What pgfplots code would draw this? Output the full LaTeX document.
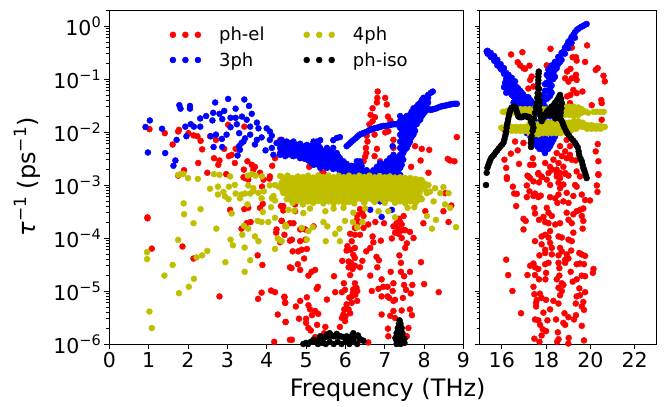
\documentclass[border=0pt]{standalone}
\usepackage{fontspec}
\setmainfont{DejaVu Sans}
\usepackage{pgfplots}
\pgfplotsset{compat=1.18}
\definecolor{oliv}{RGB}{191,191,0}
\newcommand\ep[1]{\raisebox{.4em}{\fontsize{14.5}{16}\selectfont #1}}
\newcommand\eq[1]{\raisebox{.4em}{\fontsize{17}{18}\selectfont #1}}
\newcommand\threedots[1]{\fill[#1] (0pt,0pt) circle (3pt) (12.5pt,0pt) circle (3pt) (25pt,0pt) circle (3pt);}
\begin{document}
\begin{tikzpicture}
\path[use as bounding box] (0,0) rectangle (667pt,407pt);
\begin{axis}[scale only axis, height=334pt, ymode=log, ymin=1e-6, ymax=2,
    axis line style={line width=0.9pt},
    tick style={black,line width=0.8pt},
    major tick length=5pt, minor tick length=3pt, tick align=outside,
    xtick pos=bottom, ytick pos=left,
    /pgf/number format/assume math mode=true,
    ytick={1e-6,1e-5,1e-4,1e-3,1e-2,1e-1,1},
    minor ytick={2e-6,3e-6,4e-6,5e-6,6e-6,7e-6,8e-6,9e-6,2e-5,3e-5,4e-5,5e-5,6e-5,7e-5,8e-5,9e-5,2e-4,3e-4,4e-4,5e-4,6e-4,7e-4,8e-4,9e-4,2e-3,3e-3,4e-3,5e-3,6e-3,7e-3,8e-3,9e-3,2e-2,3e-2,4e-2,5e-2,6e-2,7e-2,8e-2,9e-2,2e-1,3e-1,4e-1,5e-1,6e-1,7e-1,8e-1,9e-1,2},
    tick label style={font=\fontsize{20.5}{22}\selectfont},
  at={(109.3pt,63pt)}, anchor=south west, width=354.2pt,
  xmin=0, xmax=9, xtick={0,1,2,3,4,5,6,7,8,9},
  yticklabels={10\ep{−6},10\ep{−5},10\ep{−4},10\ep{−3},10\ep{−2},10\ep{−1},10\ep{0}},
  xlabel={Frequency (THz)},
  xlabel style={font=\fontsize{24}{26}\selectfont, at={(axis description cs:0.786,-0.138)}, anchor=center},
  ylabel={\textit{τ}\eq{−1} (ps\eq{−1})},
  ylabel style={font=\fontsize{24}{26}\selectfont, at={(axis description cs:-0.232,0.5)}, anchor=center},
  legend columns=2, transpose legend, legend cell align=left,
  legend style={draw=none, fill=none, at={(rel axis cs:0.17,0.955)}, anchor=north west, font=\fontsize{18}{20}\selectfont,
    row sep=6pt, inner sep=0pt,
    /tikz/every odd column/.style={column sep=16pt},
    /tikz/every even column/.style={column sep=37pt}},
]
% ph-el
\addplot[only marks, mark=*, mark size=3pt, color=red, legend image code/.code={\threedots{red}}] coordinates {
(1.02,1.13e-2)(1.41,9.5e-3)(1.77,1.1e-2)(1.75,1.02e-2)(1.61,5.8e-3)(2.01,9.5e-3)(2.14,8.6e-3)(2.24,8.3e-3)(2.32,6.8e-3)(2.36,4.7e-3)(2.26,2.6e-3)(1.9,1.9e-3)(1.75,1.5e-3)(2.49,1.7e-3)(2.56,8.3e-3)(2.71,7.1e-3)(2.92,4.8e-3)(3.02,1.37e-2)(3.43,1.26e-2)(3.21,4.8e-3)(2.66,3.2e-3)(2.8,2.9e-3)(2.77,2.4e-3)(3.04,3.5e-3)(3.11,3.7e-3)(3.19,2.6e-3)(3.51,2.8e-3)(3.62,2.4e-3)(3.7,2.2e-3)(3.42,1.95e-3)(3.66,1.95e-3)(4.14,2.3e-3)(2.97,1.6e-3)(3.41,1.4e-3)(3.53,1.45e-3)(3.83,1.7e-3)(4.08,1.45e-3)(4.21,3.2e-3)
(.97,2.35e-4)(.97,2.45e-4)(1.08,6.3e-5)(1.86,6.9e-5)(2.14,4.1e-5)(2.8,7.9e-6)(3.78,7.1e-6)(3.87,9.3e-6)(4.11,1.02e-5)(4.21,9.5e-6)(4.45,7.6e-6)(4.47,6e-6)(4.28,3.6e-6)(4.48,2.6e-6)(4.19,1.1e-6)(4.59,1.2e-6)(3.77,4.7e-5)(3.89,3.1e-5)(4.59,2.8e-5)(3.07,3.4e-4)(3.43,3.5e-4)(3.53,3.7e-4)(3.83,3.7e-4)(3.9,4.4e-4)(3.59,2e-4)(3.49,1.9e-4)(3.36,1.5e-4)(4.38,2.1e-4)(4.25,1.45e-4)(4.24,1.26e-4)(4.45,1.15e-4)(4.36,4e-4)(4.42,3.3e-4)(4.59,8.9e-5)(4.34,8.3e-5)(4.59,1.9e-4)(3.92,1.26e-3)(3.88,9.3e-4)(3.45,1.35e-3)(3.53,1.26e-3)(4.07,1.32e-3)
(7.98,1.9e-4)(8.62,2e-4)(8.49,3.2e-4)(8.03,3.2e-4)(8.69,4.1e-4)(8.54,7e-4)(7.92,3.5e-5)(8,1.35e-5)(8.37,9.5e-6)(7.7,1.3e-5)(7.64,2.3e-5)(7.41,2.3e-5)(7.49,1.9e-5)(7.49,1.3e-5)(7.54,1.05e-5)(7.66,9e-6)(7.46,7.4e-6)(7.22,6.5e-6)(7.26,6.8e-6)(7.43,4.3e-6)(7.64,4.5e-6)(7.69,3.5e-6)(7.22,4.2e-6)(7.14,3.4e-6)(6.92,3.6e-6)(7.26,3.1e-6)(7.08,1.95e-6)(7.09,1.4e-6)(7.6,2e-6)(7.56,1.4e-6)(7.37,4.7e-5)(7.41,3.4e-5)(7.52,6.5e-5)(7.56,7.9e-5)(7.73,1e-4)(7.43,1e-4)(7.18,9.8e-5)(7.26,1.26e-4)(7.52,1.4e-4)(7.64,1.3e-4)(7.22,1.66e-4)(7.43,1.8e-4)(7.39,2e-4)(7.48,2.6e-4)(6.98,1.9e-4)(6.76,2e-4)(6.9,8.9e-5)(6.69,1.07e-4)(6.71,8.3e-5)(6.63,6.5e-5)(6.53,5.6e-5)(6.03,5.8e-5)(6.13,6e-5)(6.24,6.5e-5)(6.16,8.7e-5)(6.24,1.15e-4)(6.37,1.15e-4)(6.58,1.8e-4)(6.46,1.55e-4)(6.37,3.5e-4)(6.46,2.6e-4)(6.29,2.2e-4)(6.24,1.55e-4)
(5.92,3.7e-5)(6.24,4.2e-5)(6.43,3.7e-5)(6.14,3.4e-5)(6.24,3e-5)(6.08,2.8e-5)(6.37,2.8e-5)(6.12,2e-5)(6.63,1.95e-5)(6.81,2.8e-5)(6.79,4.4e-5)(6.85,3.8e-5)(7.15,2.3e-5)(5.71,1.9e-5)(5.23,2.5e-5)(5.14,2.3e-5)(5.06,1.95e-5)(5.3,1.2e-5)(5.27,1.1e-5)(4.63,2.7e-5)(4.85,2.5e-5)(4.79,3.2e-5)(4.95,4.1e-5)(4.66,5.6e-5)(4.8,5.6e-5)(5.02,6.2e-5)(4.89,6e-5)(4.64,9.3e-5)(4.85,8.7e-5)(4.98,9.3e-5)(4.68,1.9e-4)(4.38,2.1e-4)(4.42,4e-4)(4.72,4.3e-4)(4.72,3.2e-4)(4.85,1.45e-4)(5.19,1.66e-4)(4.98,1.45e-4)
(5.96,1.4e-5)(6.24,1.4e-5)(6.28,1.15e-5)(6.2,1.07e-5)(5.99,1.05e-5)(5.91,9.5e-6)(5.74,9.5e-6)(6.19,9.3e-6)(6.16,7.9e-6)(6.67,1e-5)(6.84,1.1e-5)(6.92,1.66e-5)(7.07,1.2e-5)(6.96,1.2e-5)(6.92,7.9e-6)(7.07,7.9e-6)(7.11,7.4e-6)(5.53,6.9e-6)(5.02,7.6e-6)(4.85,6.5e-6)(4.74,5.1e-6)(4.45,7.8e-6)(4.47,6e-6)(5.06,5.4e-6)(5.1,4.5e-6)(5.23,4.2e-6)(5.31,3.7e-6)(4.82,3e-6)(5,3e-6)(5,2.5e-6)(4.48,2.6e-6)(5.06,2e-6)(5.12,1.8e-6)(4.64,1.2e-6)(5.23,1.35e-6)(5.49,2.1e-6)(5.46,1.6e-6)(5.86,2.1e-6)(5.99,2.7e-6)(5.95,3.6e-6)(6.03,5.6e-6)(6.16,6e-6)(6.3,6.5e-6)(6.08,4.5e-6)(5.91,3.1e-6)(6.58,1.07e-6)
(6.82,5.8e-2)(6.81,4.4e-2)(6.8,3.6e-2)(7.01,4.4e-2)(7.05,3.3e-2)(6.69,2.8e-2)(6.64,2.1e-2)(6.75,1.9e-2)(6.69,1.6e-2)(6.61,1.4e-2)(7.08,1.95e-2)(7.14,1.65e-2)(6.74,8.9e-3)(6.54,8.5e-3)(6.56,6.6e-3)(6.52,5e-3)(6.53,4e-3)(6.5,3.4e-3)(6.46,2.8e-3)(6.8,4.8e-3)(6.74,3.5e-3)(6.88,2.8e-3)(7.01,9.8e-3)(7.09,1.03e-2)(7.22,7.1e-3)(7.22,5e-3)(7.22,3.5e-3)(7.77,5.4e-3)(7.94,4.8e-3)(8.13,4.6e-3)(7.91,2.9e-3)(7.67,2.2e-3)(8.83,8e-3)(8.6,3.1e-3)(8.66,2.9e-3)(8.77,2.8e-3)(8.11,1.7e-3)(5.44,1.7e-3)(5.4,1.65e-3)(5.08,2.2e-3)(4.34,7.1e-3)
(6.3,1.6e-4)(6.33,2e-4)(6.3,2.7e-4)(6.42,3e-4)(7.36,2.3e-4)(7.33,1.5e-4)(7.3,1.9e-4)(7.45,1.4e-4)(7.35,1.2e-4)(6.12,1.2e-4)(6.05,7e-5)(6.2,4.8e-5)(6.08,3.6e-5)(6.18,2.6e-5)(6.3,1e-5)(6.25,8.5e-6)(6.1,7.5e-6)(6,3.3e-6)(5.97,4.5e-6)(6.12,3.8e-6)(5.15,3.5e-6)(5.28,2.3e-6)(7.2,1e-5)(7.22,1.4e-5)
};
\addlegendentry{ph-el}
% 3ph
\addplot[only marks, mark=*, mark size=3pt, color=blue, legend image code/.code={\threedots{blue}}] coordinates {
(.92,1.24e-2)(1.03,1.65e-2)(.98,4.1e-3)(1.34,1.15e-2)(1.42,4e-3)(1.78,3.2e-2)(1.81,2.75e-2)(2.05,3.1e-2)(2.05,2.75e-2)(2.31,1.8e-2)(2.46,2e-2)(2.69,3.6e-2)(3.02,4.2e-2)(3.43,4.1e-2)(3.55,3.1e-2)(3.21,2.75e-2)(2.64,2.3e-2)(2.8,2.2e-2)(2.92,2.5e-2)(3.62,2.2e-2)(2.62,1.65e-2)(2.87,1.75e-2)(3.08,1.85e-2)(3.21,1.85e-2)(3.37,1.95e-2)(3.49,1.7e-2)(3.75,1.5e-2)(1.93,1.26e-2)(2.07,1.4e-2)(2.15,1.26e-2)(2.31,1.26e-2)(3.08,1.23e-2)(3.24,1.4e-2)(3.58,1.26e-2)(3.79,1.17e-2)(1.71,7.1e-3)(1.96,8.3e-3)(2.71,8.9e-3)(2.58,8.3e-3)(2.98,8.9e-3)(2.86,7.4e-3)(3.3,9.5e-3)(3.58,8.9e-3)(3.45,7.6e-3)(3.41,6.6e-3)(3.75,7.1e-3)(3.7,5.8e-3)(3.87,7.9e-3)(4,1.17e-2)(4.08,1.02e-2)(4.13,8.5e-3)(1.68,2.9e-3)(1.63,2.3e-3)(2.65,5.2e-3)(2.87,5.2e-3)(3.3,5.4e-3)(3.36,6.2e-3)(3.32,4.6e-3)(3.26,3.6e-3)(3.97,4.5e-3)(4.08,7.1e-3)(4.13,5e-3)(4.25,6.2e-3)(4.38,7.1e-3)(4.17,3.7e-3)(4.34,4e-3)(4.51,5.8e-3)(4.47,4.3e-3)(4.59,5e-3)
(4.34,3.7e-3)(4.34,5e-3)(4.34,6.6e-3)(4.43,4.3e-3)(4.43,5.7e-3)(4.51,3.7e-3)(4.51,5e-3)(4.51,6.6e-3)(4.6,4e-3)(4.6,5.7e-3)(4.68,3.5e-3)(4.68,5e-3)(4.68,6.6e-3)(4.77,4.3e-3)(4.77,5.7e-3)(4.85,3.2e-3)(4.85,4.3e-3)(4.85,6e-3)(4.93,3.7e-3)(4.93,5e-3)(5.02,3.2e-3)(5.02,4.3e-3)(5.02,5.7e-3)(5.1,2.8e-3)(5.1,3.7e-3)(5.1,5e-3)(5.19,2.4e-3)(5.19,3.2e-3)(5.19,4.3e-3)(5.19,5.7e-3)(5.19,6.6e-3)(5.27,2.8e-3)(5.27,3.7e-3)(5.27,5e-3)(5.27,6.6e-3)(5.36,2.1e-3)(5.36,2.8e-3)(5.36,3.7e-3)(5.36,5e-3)(5.36,7e-3)(5.45,2.4e-3)(5.45,3.2e-3)(5.45,4.3e-3)(5.53,2.1e-3)(5.53,2.8e-3)(5.53,3.7e-3)(5.53,5e-3)(5.61,2.4e-3)(5.61,3.2e-3)(5.61,4.3e-3)(5.69,2e-3)(5.69,2.8e-3)(5.69,3.7e-3)(5.69,5e-3)(5.69,7e-3)(5.78,2.2e-3)(5.78,3e-3)(5.78,4e-3)(5.78,7.7e-3)(5.86,1.8e-3)(5.86,2.4e-3)(5.86,3.2e-3)(5.86,8e-3)(5.95,1.7e-3)(5.95,2.2e-3)(5.95,2.8e-3)(6.03,1.6e-3)(6.03,2e-3)(6.03,2.5e-3)(6.03,5.4e-3)(6.12,1.6e-3)(6.12,2e-3)(6.12,6.2e-3)(6.2,1.6e-3)(6.2,2.1e-3)(6.2,7e-3)(6.29,1.55e-3)(6.29,1.9e-3)(6.29,2.8e-3)(6.29,8e-3)(6.37,1.55e-3)(6.37,2e-3)(6.37,2.8e-3)(6.37,9e-3)(6.45,1.55e-3)(6.45,1.9e-3)(6.45,9.5e-3)(6.54,1.55e-3)(6.54,1.9e-3)(6.54,1e-2)(6.62,1.55e-3)(6.62,1.1e-2)(6.71,1.5e-3)(6.71,1.9e-3)(6.71,1.15e-2)(6.8,1.55e-3)(6.8,2.2e-3)(6.8,1.2e-2)(6.88,1.55e-3)(6.88,2.1e-3)(6.88,2.6e-3)(6.88,1.25e-2)(6.97,1.6e-3)(6.97,2.3e-3)(6.97,1.3e-2)(7.05,1.6e-3)(7.05,2.1e-3)(7.05,2.8e-3)(7.05,1.3e-2)(7.13,1.6e-3)(7.13,2.4e-3)(7.13,3.2e-3)(7.13,1.35e-2)(7.22,1.6e-3)(7.22,2.1e-3)(7.22,2.8e-3)(7.22,3.7e-3)(7.2,5.4e-3)(7.22,1.4e-2)(7.3,1.6e-3)(7.3,2.4e-3)(7.3,3.2e-3)(7.3,1.4e-2)
(7.39,1.55e-3)(7.39,2.1e-3)(7.39,2.8e-3)(7.39,3.7e-3)(7.39,5e-3)(7.39,6.6e-3)(7.39,8.9e-3)(7.39,1.2e-2)(7.39,1.6e-2)(7.39,2e-2)(7.47,3e-3)(7.47,4e-3)(7.47,5.3e-3)(7.47,7e-3)(7.47,9.5e-3)(7.47,1.25e-2)(7.47,1.6e-2)(7.56,5e-3)(7.56,6.6e-3)(7.56,8.9e-3)(7.56,1.2e-2)(7.56,1.6e-2)(7.56,2e-2)(7.64,6.6e-3)(7.64,8.9e-3)(7.64,1.2e-2)(7.64,1.6e-2)(7.64,2.1e-2)(7.73,9e-3)(7.73,1.2e-2)(7.73,1.6e-2)(7.73,2.1e-2)(7.73,2.8e-2)(7.81,1.4e-2)(7.81,1.8e-2)(7.81,2.4e-2)(7.81,3e-2)(7.9,1.7e-2)(7.9,2.1e-2)(7.9,2.8e-2)(7.9,3.5e-2)(7.98,2.2e-2)(7.98,2.8e-2)(7.98,3.6e-2)(7.98,4.4e-2)(8.05,2.6e-2)(8.05,3.4e-2)(8.05,4.5e-2)(8.1,5e-2)(8.17,5.5e-2)(8.22,5.8e-2)(8.15,2.6e-2)(8.24,2.7e-2)(8.32,2.8e-2)(8.41,3e-2)(8.49,3.1e-2)(8.58,3.2e-2)(8.66,3.3e-2)(8.75,3.4e-2)(8.83,3.4e-2)
(6.63,3.4e-4)(6.92,2.5e-4)(6.88,4.9e-4)(7.18,3.4e-4)
(4.39,3.9e-3)(4.39,4.6e-3)(4.39,6e-3)(4.47,4.6e-3)(4.47,5.5e-3)(4.47,3.5e-3)(4.56,4.3e-3)(4.56,5.3e-3)(4.56,6.2e-3)(4.64,3.6e-3)(4.64,4.6e-3)(4.64,6.2e-3)(4.72,4e-3)(4.72,5.6e-3)(4.81,3.5e-3)(4.81,4.6e-3)(4.81,5.2e-3)(4.89,3.3e-3)(4.89,4.2e-3)(4.89,5.3e-3)(4.97,3.1e-3)(4.97,4e-3)(4.97,5.4e-3)(5.06,2.9e-3)(5.06,3.7e-3)(5.06,4.8e-3)(5.14,2.6e-3)(5.14,3.3e-3)(5.14,4.4e-3)(5.14,5.6e-3)(5.23,2.5e-3)(5.23,3.4e-3)(5.23,4.6e-3)(5.31,2.4e-3)(5.31,3.2e-3)(5.31,4.3e-3)(5.31,5.7e-3)(5.4,2.5e-3)(5.4,3.3e-3)(5.4,4.4e-3)(5.49,2.2e-3)(5.49,3e-3)(5.49,3.9e-3)(5.57,2.3e-3)(5.57,3.1e-3)(5.57,4.1e-3)(5.65,2.2e-3)(5.65,3e-3)(5.65,4e-3)(5.73,2.4e-3)(5.73,3.3e-3)(5.82,2e-3)(5.82,2.7e-3)(5.82,3.5e-3)(5.9,2e-3)(5.9,2.7e-3)(5.99,1.9e-3)(5.99,2.5e-3)
(6.07,1.75e-3)(6.07,2.25e-3)(6.16,1.75e-3)(6.16,2.3e-3)(6.25,1.7e-3)(6.25,2.3e-3)(6.33,1.7e-3)(6.33,2.4e-3)(6.41,1.7e-3)(6.41,2.3e-3)(6.5,1.7e-3)(6.58,1.7e-3)(6.66,1.7e-3)(6.75,1.7e-3)(6.84,1.8e-3)(6.92,1.8e-3)(6.92,2.35e-3)(7.01,1.8e-3)(7.01,2.5e-3)(7.09,1.85e-3)(7.09,2.7e-3)(7.17,1.85e-3)(7.17,2.6e-3)(7.26,1.85e-3)(7.26,2.7e-3)(7.34,1.85e-3)(7.34,2.5e-3)(7.34,3.3e-3)
(6.08,5.8e-3)(6.16,6.6e-3)(6.25,7.5e-3)(6.33,8.5e-3)(6.41,9.2e-3)(6.5,9.8e-3)(6.58,1.05e-2)(6.66,1.12e-2)(6.75,1.18e-2)(6.84,1.22e-2)(6.92,1.28e-2)(7.01,1.3e-2)(7.09,1.33e-2)(7.17,1.38e-2)(7.26,1.4e-2)(7.34,1.45e-2)
(8.2,2.65e-2)(8.28,2.75e-2)(8.36,2.9e-2)(8.45,3.05e-2)(8.54,3.15e-2)(8.62,3.25e-2)(8.7,3.35e-2)(8.79,3.4e-2)
(7.43,2.4e-3)(7.43,3.4e-3)(7.43,4.6e-3)(7.43,6.1e-3)(7.43,8e-3)(7.43,1.1e-2)(7.43,1.4e-2)(7.43,1.85e-2)(7.51,4.6e-3)(7.51,6.1e-3)(7.51,8e-3)(7.51,1.05e-2)(7.51,1.4e-2)(7.51,1.85e-2)(7.6,5.8e-3)(7.6,7.8e-3)(7.6,1.05e-2)(7.6,1.4e-2)(7.6,1.85e-2)(7.68,8e-3)(7.68,1.05e-2)(7.68,1.4e-2)(7.68,1.85e-2)(7.68,2.4e-2)(7.77,1.05e-2)(7.77,1.4e-2)(7.77,1.9e-2)(7.77,2.5e-2)(7.85,1.6e-2)(7.85,2.1e-2)(7.85,2.7e-2)(7.85,3.3e-2)(7.94,2e-2)(7.94,2.5e-2)(7.94,3.2e-2)(7.94,4e-2)(8.02,2.4e-2)(8.02,3.1e-2)(8.02,4e-2)(8.1,2.8e-2)(8.1,3.6e-2)(8.1,4.4e-2)
};
\addlegendentry{3ph}
% 4ph
\addplot[only marks, mark=*, mark size=3pt, color=oliv, legend image code/.code={\threedots{oliv}}] coordinates {
(.96,5.4e-5)(.96,4e-5)(1.08,2e-6)(1.02,4.1e-6)(1.4,1.95e-5)(1.61,3.1e-5)(1.75,9.2e-5)(1.77,9.1e-6)(2.02,1.2e-5)(2.15,1.7e-5)(2.22,4.3e-5)(2.36,4.7e-5)(2.49,5.7e-5)(2.14,1.9e-4)(1.9,2.8e-4)(1.89,4.5e-4)(2.32,3.5e-4)(2.72,1.5e-4)(2.95,3.5e-5)(3.08,9.3e-5)(3.14,7.3e-5)(3.44,6.6e-5)(3.44,2.3e-5)(3.58,3.8e-5)(3.38,1.15e-4)(3.42,1.7e-4)(3.53,1.5e-4)(3.7,1.07e-4)(3.79,8.7e-5)(3.11,2.9e-4)(3.51,4.3e-4)(3.9,3.1e-4)(3.77,2.1e-4)(3.87,2e-4)(4.04,2e-4)(4.21,2.4e-4)(4.11,3.8e-4)(4.21,6.2e-5)(4.28,9.8e-5)(4.34,8.9e-5)(4.48,1.75e-4)(4.5,1.65e-4)
(1.75,1.55e-3)(1.81,1.6e-3)(1.88,1.62e-3)(2,1.35e-3)(2.25,1.3e-3)(2.56,8.5e-4)(2.66,1.6e-3)(2.8,1.55e-3)(3.07,1.45e-3)(2.76,9.3e-4)(3.04,9.3e-4)(3.19,1e-3)(2.76,6.6e-4)(2.9,7.4e-4)(2.94,6.1e-4)(3.03,5.4e-4)(3.21,6.9e-4)(3.32,5.6e-4)(3.36,6.6e-4)(3.45,6.9e-4)(3.58,6.9e-4)(3.52,1.5e-3)(3.62,1.6e-3)(3.72,1.5e-3)(3.53,9.8e-4)(3.66,8.7e-4)(3.66,7.6e-4)(3.79,7.1e-4)(3.87,5.6e-4)(3.93,7.6e-4)(3.88,1.45e-3)(4.08,9.8e-4)(4.21,1e-3)(4.3,9.3e-4)(4.38,1.1e-3)(4.34,1.48e-3)(4.17,6.2e-4)(4.21,5.1e-4)(4.13,5.6e-4)(4.42,7.1e-4)(4.51,5.4e-4)(4.59,1.26e-3)(4.59,6.3e-4)
(4.4,1.4e-3)(4.4,1.05e-3)(4.4,8e-4)(4.53,1.5e-3)(4.53,1.15e-3)(4.53,8.6e-4)(4.53,6.5e-4)(4.66,1.35e-3)(4.66,1e-3)(4.66,7.8e-4)(4.66,6e-4)(4.66,4.6e-4)(4.79,1.45e-3)(4.79,1.1e-3)(4.79,8.4e-4)(4.79,6.3e-4)(4.79,5e-4)(4.92,1.4e-3)(4.92,1.02e-3)(4.92,7.9e-4)(4.92,6e-4)(4.92,4.3e-4)(5.05,1.5e-3)(5.05,1.12e-3)(5.05,8.4e-4)(5.05,6.5e-4)(5.05,4.9e-4)(5.18,1.38e-3)(5.18,1.05e-3)(5.18,8e-4)(5.18,6e-4)(5.18,4.6e-4)(5.31,1.52e-3)(5.31,1.15e-3)(5.31,8.6e-4)(5.31,6.4e-4)(5.31,5e-4)(5.44,1.42e-3)(5.44,1.05e-3)(5.44,7.9e-4)(5.44,6.1e-4)(5.44,4.5e-4)(5.57,1.5e-3)(5.57,1.1e-3)(5.57,8.3e-4)(5.57,6.4e-4)(5.57,4.9e-4)(5.7,1.4e-3)(5.7,1.02e-3)(5.7,7.9e-4)(5.7,6e-4)(5.7,4.5e-4)(5.83,1.5e-3)(5.83,1.12e-3)(5.83,8.4e-4)(5.83,6.5e-4)(5.83,4.9e-4)(5.96,1.4e-3)(5.96,1.05e-3)(5.96,8e-4)(5.96,6e-4)(5.96,4.5e-4)(6.09,1.5e-3)(6.09,1.12e-3)(6.09,8.6e-4)(6.09,6.4e-4)(6.09,4.8e-4)(6.22,1.4e-3)(6.22,1.05e-3)(6.22,7.9e-4)(6.22,6e-4)(6.22,4.5e-4)(6.35,1.5e-3)(6.35,1.15e-3)(6.35,8.4e-4)(6.35,6.5e-4)(6.48,1.42e-3)(6.48,1.05e-3)(6.48,8e-4)(6.48,6e-4)(6.48,4.6e-4)(6.61,1.5e-3)(6.61,1.12e-3)(6.61,8.6e-4)(6.61,6.4e-4)(6.74,1.4e-3)(6.74,1.02e-3)(6.74,7.9e-4)(6.74,6e-4)(6.74,4.8e-4)(6.87,1.48e-3)(6.87,1.12e-3)(6.87,8.4e-4)(6.87,6.5e-4)(7,1.4e-3)(7,1.05e-3)(7,8e-4)(7,6e-4)(7,4.6e-4)(7.13,1.45e-3)(7.13,1.12e-3)(7.13,8.6e-4)(7.13,6.4e-4)(7.26,1.38e-3)(7.26,1.02e-3)(7.26,7.9e-4)(7.26,6e-4)(7.26,4.6e-4)(7.39,1.4e-3)(7.39,1.1e-3)(7.39,8.4e-4)(7.39,6.5e-4)(7.39,4.9e-4)(7.52,1.35e-3)(7.52,1.02e-3)(7.52,8e-4)(7.52,6e-4)(7.52,4.5e-4)(7.65,1.35e-3)(7.65,1.05e-3)(7.65,8.4e-4)(7.65,6.4e-4)(7.65,4.9e-4)(7.78,1.3e-3)(7.78,1e-3)(7.78,7.9e-4)(7.78,6e-4)(7.78,4.6e-4)(7.9,1.25e-3)(7.9,9.5e-4)(7.9,7.5e-4)(7.9,5.8e-4)
(7.94,1.23e-3)(8.11,1e-3)(8.28,8.7e-4)(8.49,9.1e-4)(8.62,7e-4)(8.41,7e-4)(8.24,4.9e-4)(8.53,4.3e-4)(8.66,3.7e-4)(8.07,2.6e-4)(8.3,2.2e-4)(8.2,1.5e-4)(8.81,1.6e-4)(7.94,5.4e-4)(8.07,7e-4)(8.02,8.5e-4)(8.15,7.5e-4)(8.02,1.05e-3)
(4.47,1.66e-4)(4.38,8.7e-5)(4.55,3.4e-4)(4.89,1.55e-4)(5.06,1.35e-4)(5.17,1.6e-4)(5.02,9.3e-5)(4.93,2.95e-4)(5.44,2e-4)(5.54,1.66e-4)(5.85,1.5e-4)(5.99,2.1e-4)(5.74,1.2e-4)(5.5,8.7e-5)(5.86,8.7e-5)(6.19,2e-4)(6.3,1.6e-4)(6.43,2e-4)(7.26,2.45e-4)(6.2,3e-4)(5.49,3.2e-4)(5.95,3.7e-4)(6.84,3.2e-4)(7.09,3.2e-4)(7.58,3.7e-4)(7.75,3.8e-4)(4.7,3.3e-4)(5.1,3.6e-4)(5.7,3.6e-4)(6.5,3.6e-4)
(4.47,1.25e-3)(4.47,9.6e-4)(4.47,7.2e-4)(4.6,1.2e-3)(4.6,9.2e-4)(4.6,7e-4)(4.6,5.3e-4)(4.73,1.25e-3)(4.73,9.5e-4)(4.73,7.2e-4)(4.73,5.5e-4)(4.86,1.2e-3)(4.86,9e-4)(4.86,7e-4)(4.86,5.3e-4)(4.99,1.25e-3)(4.99,9.5e-4)(4.99,7.2e-4)(4.99,5.5e-4)(5.12,1.25e-3)(5.12,9.2e-4)(5.12,7e-4)(5.12,5.3e-4)(5.25,1.28e-3)(5.25,9.5e-4)(5.25,7.2e-4)(5.25,5.5e-4)(5.38,1.25e-3)(5.38,9.2e-4)(5.38,7e-4)(5.38,5.3e-4)(5.51,1.25e-3)(5.51,9.5e-4)(5.51,7.2e-4)(5.51,5.5e-4)(5.64,1.25e-3)(5.64,9.2e-4)(5.64,7e-4)(5.64,5.3e-4)(5.77,1.25e-3)(5.77,9.5e-4)(5.77,7.2e-4)(5.77,5.5e-4)(5.9,1.25e-3)(5.9,9.2e-4)(5.9,7e-4)(5.9,5.3e-4)(6.03,1.25e-3)(6.03,9.5e-4)(6.03,7.2e-4)(6.03,5.5e-4)(6.16,1.25e-3)(6.16,9.2e-4)(6.16,7e-4)(6.16,5.3e-4)(6.29,1.25e-3)(6.29,9.5e-4)(6.29,7.2e-4)(6.29,5.5e-4)(6.42,1.25e-3)(6.42,9.2e-4)(6.42,7e-4)(6.42,5.3e-4)(6.55,1.25e-3)(6.55,9.5e-4)(6.55,7.2e-4)(6.55,5.5e-4)(6.68,1.25e-3)(6.68,9.2e-4)(6.68,7e-4)(6.68,5.3e-4)(6.81,1.25e-3)(6.81,9.5e-4)(6.81,7.2e-4)(6.81,5.5e-4)(6.94,1.25e-3)(6.94,9.2e-4)(6.94,7e-4)(6.94,5.3e-4)(7.07,1.25e-3)(7.07,9.5e-4)(7.07,7.2e-4)(7.07,5.5e-4)(7.2,1.25e-3)(7.2,9.2e-4)(7.2,7e-4)(7.2,5.3e-4)(7.33,1.22e-3)(7.33,9.5e-4)(7.33,7.2e-4)(7.33,5.5e-4)(7.46,1.2e-3)(7.46,9.2e-4)(7.46,7e-4)(7.46,5.3e-4)(7.59,1.2e-3)(7.59,9.5e-4)(7.59,7.2e-4)(7.59,5.5e-4)(7.72,1.15e-3)(7.72,9.2e-4)(7.72,7e-4)(7.72,5.3e-4)(7.85,1.1e-3)(7.85,8.8e-4)(7.85,6.8e-4)(7.85,5.2e-4)
};
\addlegendentry{4ph}
% ph-iso
\addplot[only marks, mark=*, mark size=3pt, color=black, legend image code/.code={\threedots{black}}] coordinates {
(4.93,1e-6)(5.05,1e-6)(5.19,1.2e-6)(5.28,1.1e-6)(5.36,1.4e-6)(5.45,1.3e-6)(5.53,1.5e-6)(5.6,1.6e-6)(5.7,1.4e-6)(5.78,1.55e-6)(5.88,1.4e-6)(6.03,1.4e-6)(6.1,1.3e-6)(6.2,1.6e-6)(6.28,1.4e-6)(6.32,1.45e-6)(6.4,1.2e-6)(6.46,1.15e-6)(5.3,1e-6)(5.5,1e-6)(5.7,1e-6)(5.9,1e-6)(6.1,1e-6)(6.3,1e-6)
(7.375,2.8e-6)(7.36,2.4e-6)(7.4,2.4e-6)(7.33,2e-6)(7.37,2e-6)(7.43,2e-6)(7.3,1.6e-6)(7.38,1.6e-6)(7.45,1.6e-6)(7.27,1.3e-6)(7.35,1.3e-6)(7.42,1.3e-6)(7.5,1.25e-6)(7.3,1e-6)(7.4,1e-6)(7.5,1.05e-6)
(5,1.05e-6)(5.12,1.1e-6)(5.24,1.1e-6)(5.33,1.2e-6)(5.41,1.25e-6)(5.49,1.35e-6)(5.57,1.4e-6)(5.65,1.45e-6)(5.74,1.45e-6)(5.83,1.4e-6)(5.95,1.35e-6)(6.06,1.25e-6)(6.15,1.4e-6)(6.24,1.45e-6)(6.36,1.25e-6)(5.4,1.05e-6)(5.6,1.1e-6)(5.8,1.1e-6)(6,1.1e-6)(6.2,1.15e-6)(7.34,1.8e-6)(7.41,1.8e-6)(7.33,1.45e-6)(7.42,1.45e-6)(7.3,1.15e-6)(7.38,1.15e-6)(7.46,1.15e-6)
};
\addlegendentry{ph-iso}
\end{axis}

\begin{axis}[scale only axis, height=334pt, ymode=log, ymin=1e-6, ymax=2,
    axis line style={line width=0.9pt},
    tick style={black,line width=0.8pt},
    major tick length=5pt, minor tick length=3pt, tick align=outside,
    xtick pos=bottom, ytick pos=left,
    /pgf/number format/assume math mode=true,
    ytick={1e-6,1e-5,1e-4,1e-3,1e-2,1e-1,1},
    minor ytick={2e-6,3e-6,4e-6,5e-6,6e-6,7e-6,8e-6,9e-6,2e-5,3e-5,4e-5,5e-5,6e-5,7e-5,8e-5,9e-5,2e-4,3e-4,4e-4,5e-4,6e-4,7e-4,8e-4,9e-4,2e-3,3e-3,4e-3,5e-3,6e-3,7e-3,8e-3,9e-3,2e-2,3e-2,4e-2,5e-2,6e-2,7e-2,8e-2,9e-2,2e-1,3e-1,4e-1,5e-1,6e-1,7e-1,8e-1,9e-1,2},
    tick label style={font=\fontsize{20.5}{22}\selectfont},
  at={(479.6pt,63pt)}, anchor=south west, width=177.3pt,
  xmin=15, xmax=23, xtick={16,18,20,22}, yticklabels={},
]
\addplot[only marks, mark=*, mark size=3pt, color=red] coordinates {
(16.42,.29)(16.93,.32)(18.2,.37)(19.85,.43)(19.16,.39)(19.76,.21)(16.72,.207)(16.83,.18)(17.05,.155)(17.25,.178)(16.98,.16)(19.35,.257)(19.2,.257)(19.38,.222)(18.03,.18)(20.33,.16)(20.24,.148)(20.59,.115)(20.65,.09)(19.1,.155)(18.95,.138)(19.35,.12)(19.16,.103)(18.86,.103)(19.01,.089)(19.38,.096)(17.28,.096)(17.35,.111)(17.43,.072)(17.2,.066)(16.15,.07)(18.95,.047)(19.1,.05)(19.38,.054)(19.64,.058)(19.23,.062)(20.06,.032)(20.49,.04)(20.51,.035)(20.51,.017)(19.08,.035)(19.12,.0227)(16.12,.011)(16.6,.0066)(16.98,.0062)(16.72,.0045)(16.41,.0039)(16.12,.003)(16.2,.0021)(16.78,.0025)(17.4,.0032)(17.28,.0024)(17.43,.0024)(16.23,.0014)(20.33,.0059)(20.24,.0043)(20.36,.0028)(20.36,.0016)(19.38,.0018)(19.34,.0029)
(18.93,.0071)(18.63,.0054)(19.08,.0054)(18.86,.0043)(18.48,.004)(19.08,.0037)(18.33,.003)(18.71,.0035)(18.93,.0032)(18.56,.0026)(19.16,.003)(18.18,.0022)(17.96,.0026)(18.78,.0022)(18.48,.00195)(18.26,.00195)(18.63,.00168)(18.86,.00168)(18.11,.00168)(17.65,.00168)(17.8,.00145)(17.2,.00145)(19.01,.0015)(18.48,.00145)
(16.23,1.3e-3)(16.5,9.3e-4)(16.56,6.9e-4)(16.68,6.8e-4)(16.65,4e-4)(16.98,2.3e-4)(17.08,2.1e-4)(16.98,1.45e-4)(17.16,1.5e-3)(17.28,1.35e-3)(17.43,1.17e-3)(17.65,1.6e-3)(17.8,1.4e-3)(18.03,1.26e-3)(17.68,1.12e-3)(18.18,1e-3)(17.13,9.8e-4)(17.13,5.9e-4)(17.25,7.6e-4)(17.5,6.9e-4)(17.65,5.9e-4)(17.43,6.2e-4)(17.76,6.3e-4)(18.18,5.9e-4)(17.47,3.7e-4)(17.5,2.9e-4)(17.68,2.2e-4)(18.03,3.7e-4)(18.11,3e-4)(18.26,2.6e-4)(17.88,2.5e-4)
(18.48,1.7e-3)(18.63,1.35e-3)(18.86,1.62e-3)(18.56,1.1e-3)(18.78,1.02e-3)(18.63,8.7e-4)(18.93,7.1e-4)(18.56,6.6e-4)(18.41,5.6e-4)(18.78,4.9e-4)(18.51,4.6e-4)(19.01,4.6e-4)(19.23,6.2e-4)(19.38,9.3e-4)(19.31,1e-3)(19.61,6.6e-4)(19.76,5.2e-4)(19.98,5.1e-4)(20.29,9.8e-4)(20.32,7.4e-4)(20.36,1.55e-3)(19.53,1.45e-3)
(18.93,3e-4)(19.23,2.8e-4)(19.53,3.4e-4)(19.68,3.6e-4)(19.38,3.2e-4)(19.61,2.6e-4)(19.68,2.1e-4)(19.16,1.9e-4)(19.01,2.2e-4)(18.63,1.9e-4)(18.41,1.8e-4)(18.11,1.9e-4)(17.96,2e-4)(18.18,1.35e-4)(17.96,1.15e-4)(17.8,1.07e-4)(18.11,1.02e-4)(18.56,1.07e-4)(18.71,1.02e-4)(19.01,9.3e-5)(19.16,8.7e-5)(19.23,1.26e-4)(19.65,1.5e-4)(17.5,8.7e-5)(17.8,7.6e-5)(18.18,8.1e-5)(18.26,6.5e-5)(18.63,6.5e-5)(18.71,5.6e-5)(19.13,5.8e-5)(17.96,6e-5)(17.96,5.2e-5)(18.26,4.9e-5)(17.7,4.7e-5)(18.56,4.7e-5)(18.93,4.9e-5)(19.5,5.2e-5)(19.61,4.9e-5)(19.76,4.6e-5)(18.86,3.9e-5)(19.01,4.1e-5)(18.86,3.4e-5)(16.2,3.9e-5)(17.43,3.3e-5)(17.28,3e-5)(17.5,2.8e-5)(17.65,2.6e-5)(17.96,3.2e-5)(18.11,3.4e-5)(18.56,3.4e-5)(18.6,2.7e-5)(19.38,3.2e-5)(19.53,3.3e-5)(19.71,3.2e-5)(20.14,2.6e-5)(20.11,2.2e-5)(19.11,2.3e-5)(18,2.2e-5)(17.5,2e-5)(17.16,2e-5)(16.29,2e-5)(19.76,1.9e-5)(19.61,1.95e-5)(19.38,1.66e-5)(19.2,1.5e-5)(18.6,1.95e-5)(18.48,1.66e-5)(18.71,1.4e-5)(17.68,1.66e-5)(17.97,1.66e-5)(17.43,1.2e-5)(16.48,1e-5)(18.56,1.15e-5)(18.78,1.3e-5)(18.71,1e-5)(19.5,1.12e-5)(19.76,9.5e-6)(19.38,7.9e-6)(19.53,8.3e-6)(17.47,8.7e-6)(17.72,8.9e-6)(18.63,8.3e-6)(17.8,7.4e-6)(17.58,6.8e-6)(18,6.8e-6)(17.55,5.1e-6)(17.55,6e-6)(18.33,6.5e-6)(18.56,5.8e-6)(18.18,4.5e-6)(19.34,5.8e-6)(19.68,6.2e-6)(19.61,5.1e-6)(19.71,4.4e-6)(16.87,3.8e-6)(17.88,3.9e-6)(18.83,3.8e-6)(19.01,3.2e-6)(19.35,3.5e-6)(19.26,2.9e-6)(17.5,2.9e-6)(18.06,2.8e-6)(18.45,2.9e-6)(17.65,2.8e-6)(17.73,2.3e-6)(18.78,2.5e-6)(18.86,2.3e-6)(19.61,2.2e-6)(17.85,1.9e-6)(18,1.75e-6)(18.53,1.66e-6)(17.8,1.45e-6)(19.02,1.3e-6)(18.56,1.23e-6)(19.71,1.17e-6)(17.47,1.26e-6)(17.7,1.1e-6)(19,1.02e-6)(18.5,1.1e-6)
};
\addplot[only marks, mark=*, mark size=3pt, color=blue] coordinates {
(15.32,.33)(15.47,.29)(15.62,.25)(15.77,.21)(15.92,.17)(16.08,.14)(15.4,.31)(15.55,.27)(15.7,.23)(15.85,.19)(16,.15)(16.15,.13)(16.23,.11)(16.23,.09)(16.1,.07)(16.15,.085)(16.38,.096)(16.38,.072)(16.38,.055)(16.3,.06)(16.2,.055)(16.53,.083)(16.53,.062)(16.53,.047)(16.53,.036)(16.68,.07)(16.68,.052)(16.68,.04)(16.68,.03)(16.83,.06)(16.83,.045)(16.83,.034)(16.98,.05)(16.98,.038)(16.98,.03)(17.13,.045)(17.13,.035)(17.13,.027)(17.28,.04)(17.28,.03)(17.43,.033)(17.43,.026)
(19.83,1.09)(19.68,1)(19.53,.93)(19.38,.84)(19.23,.68)(19.08,.54)(18.93,.43)(18.78,.33)(18.63,.264)(18.48,.21)(18.33,.18)(18.33,.13)(18.48,.16)(18.63,.21)(18.18,.16)(18.18,.12)(18.18,.09)(18.18,.066)(18.33,.1)(18.03,.12)(18.03,.085)(18.03,.06)(18.03,.042)(17.88,.05)(17.88,.035)(17.88,.027)(18.18,.048)
(17.13,.0095)(17.28,.0095)(17.43,.0095)(17.58,.0095)(17.73,.0095)(17.88,.0095)(18.03,.0095)(18.18,.0095)(18.33,.0095)(18.48,.0095)(17.43,.0071)(17.58,.0071)(17.73,.0071)(17.88,.0071)(18.03,.0071)(18.18,.0071)(18.33,.0071)(17.6,.0054)(17.73,.0054)(17.88,.0054)(18.03,.0054)(18.18,.0054)(17.88,.0046)(17.95,.004)(17.6,.015)(17.73,.015)(17.88,.015)(18.03,.015)(18.18,.015)(17.6,.022)(17.73,.022)(17.88,.02)(18.03,.02)(18.18,.02)
(15.36,.34)(15.36,.3)(15.5,.31)(15.5,.26)(15.66,.27)(15.66,.22)(15.8,.23)(15.8,.18)(15.95,.19)(15.95,.155)(16.1,.16)(16.1,.125)(16.2,.13)(16.2,.1)(16.3,.12)(16.3,.09)(16.3,.075)(16.45,.105)(16.45,.085)(16.45,.065)(16.45,.05)(16.6,.09)(16.6,.07)(16.6,.056)(16.6,.043)(16.6,.033)(16.75,.065)(16.75,.05)(16.75,.038)(16.9,.055)(16.9,.041)(16.9,.032)(17.05,.046)(17.05,.036)(17.2,.045)(17.2,.034)(17.35,.037)(17.35,.028)
(19.75,1.05)(19.6,.97)(19.45,.88)(19.3,.76)(19.3,.6)(19.15,.62)(19.15,.48)(19,.5)(19,.38)(18.85,.39)(18.85,.3)(18.7,.31)(18.7,.23)(18.55,.26)(18.55,.19)(18.4,.21)(18.4,.15)(18.4,.11)(18.25,.18)(18.25,.14)(18.25,.1)(18.25,.075)(18.1,.15)(18.1,.11)(18.1,.08)(18.1,.06)(18.1,.045)(17.95,.08)(17.95,.06)(17.95,.043)(17.95,.03)(18.25,.055)
(17.3,.008)(17.5,.0085)(17.7,.0085)(17.95,.0085)(18.25,.0085)(18.4,.0082)(17.5,.0062)(17.65,.0062)(17.8,.0062)(17.95,.0062)(18.1,.0062)(18.25,.0062)(17.7,.0048)(17.95,.0048)(18.1,.0048)(17.95,.0042)
};
\addplot[only marks, mark=*, mark size=3pt, color=oliv] coordinates {
(16.05,.024)(16.25,.025)(16.45,.027)(16.45,.023)(16.65,.027)(16.65,.023)(16.85,.027)(16.85,.023)(17.05,.027)(17.05,.023)(17.25,.027)(17.25,.023)(17.45,.027)(17.45,.023)(17.65,.027)(17.65,.023)(17.85,.027)(17.85,.023)(18.05,.027)(18.05,.023)(18.25,.028)(18.25,.023)(18.45,.028)(18.45,.023)(18.65,.028)(18.65,.023)(18.85,.03)(18.85,.025)(18.85,.021)(19.05,.03)(19.05,.025)(19.05,.021)(19.25,.03)(19.25,.025)(19.25,.02)(19.45,.029)(19.45,.025)(19.45,.021)(19.6,.027)(19.6,.023)(19.8,.024)(19.9,.023)(20.15,.024)(20.3,.024)(20.45,.024)(20.6,.024)
(15.98,.012)(16.15,.012)(16.3,.012)(16.45,.0125)(16.45,.0105)(16.65,.0125)(16.65,.0105)(16.85,.0125)(16.85,.0105)(17.05,.0125)(17.05,.0105)(17.25,.014)(17.25,.011)(17.25,.0095)(17.45,.014)(17.45,.011)(17.45,.009)(17.65,.014)(17.65,.011)(17.65,.009)(17.85,.015)(17.85,.012)(17.85,.0095)(18.05,.015)(18.05,.012)(18.05,.0095)(18.25,.015)(18.25,.012)(18.25,.0095)(18.45,.015)(18.45,.012)(18.45,.0095)(18.65,.015)(18.65,.012)(18.65,.0095)(18.85,.015)(18.85,.012)(18.85,.0098)(19.05,.015)(19.05,.012)(19.05,.0098)(19.25,.016)(19.25,.0125)(19.45,.016)(19.45,.0125)(19.65,.015)(19.65,.0125)(19.85,.0135)(19.85,.0115)(20.05,.0135)(20.05,.0115)(20.25,.013)(20.25,.0115)(20.45,.013)(20.45,.0115)(20.65,.0125)
(16.15,.024)(16.35,.026)(16.55,.025)(16.75,.025)(16.95,.025)(17.15,.025)(17.35,.025)(17.55,.025)(17.75,.025)(17.95,.025)(18.15,.025)(18.35,.025)(18.55,.025)(18.75,.026)(18.95,.027)(18.95,.023)(19.15,.027)(19.15,.023)(19.35,.027)(19.35,.023)(19.55,.025)(19.7,.025)(16.07,.012)(16.22,.012)(16.37,.0115)(16.55,.0115)(16.75,.0115)(16.95,.0115)(17.15,.012)(17.35,.012)(17.55,.012)(17.75,.013)(17.95,.0135)(17.95,.0105)(18.15,.0135)(18.15,.0105)(18.35,.0135)(18.35,.0105)(18.55,.0135)(18.55,.0105)(18.75,.0135)(18.75,.0105)(18.95,.0135)(18.95,.0108)(19.15,.0135)(19.15,.011)(19.35,.014)(19.35,.0115)(19.55,.0135)(19.75,.0125)(19.95,.0125)(20.15,.0125)(20.35,.0122)(20.55,.0122)
};
\addplot[only marks, mark=*, mark size=3pt, color=black] coordinates {
(15.29,1e-3)(15.32,1.7e-3)(15.35,2.1e-3)(15.43,2.6e-3)(15.52,3.2e-3)(15.65,3.7e-3)(15.8,4.5e-3)(15.95,5.4e-3)(16.08,6.3e-3)(16.15,8.3e-3)(16.2,1.02e-2)(16.24,1.4e-2)(16.29,1.75e-2)(16.35,2.3e-2)(16.41,2.7e-2)(16.6,3e-2)(16.5,2.9e-2)(16.68,2.4e-2)(16.75,1.95e-2)(16.9,1.9e-2)(17.02,2e-2)(17.13,1.95e-2)(17.25,1.9e-2)(17.32,1.6e-2)(17.43,1.2e-2)(17.35,8.3e-3)(17.31,6.2e-3)(17.32,5.2e-3)(17.4,1.4e-2)(17.5,2.3e-2)(17.58,3.5e-2)(17.62,5.4e-2)(17.65,8.3e-2)(17.65,.11)(17.67,.138)(17.68,6.5e-2)(17.7,4e-2)(17.7,2.6e-2)(17.76,1.95e-2)(17.8,1.6e-2)(17.9,1.95e-2)(18.03,2.4e-2)(18.18,2.8e-2)(18.33,3.2e-2)(18.5,4e-2)(18.63,5e-2)(18.71,3.5e-2)(18.66,2.3e-2)(18.63,1.8e-2)(18.74,1.5e-2)(18.83,1.2e-2)(18.96,9.5e-3)(19.13,7.6e-3)(19.31,6.2e-3)(19.43,5.1e-3)(19.49,3.7e-3)(19.61,2.8e-3)(19.68,2.1e-3)(19.76,1.7e-3)(19.83,1.35e-3)
(18.33,2.4e-2)(18.48,2.3e-2)(18.41,1.8e-2)(18.18,2.1e-2)(18.55,3e-2)
(15.39,2.35e-3)(15.47,2.9e-3)(15.58,3.45e-3)(15.72,4.1e-3)(15.87,4.9e-3)(16.02,5.8e-3)(16.12,7.3e-3)(16.18,9.2e-3)(16.22,1.2e-2)(16.27,1.55e-2)(16.32,2e-2)(16.38,2.5e-2)(16.45,2.9e-2)(16.55,3e-2)(16.64,2.7e-2)(16.72,2.15e-2)(16.82,1.9e-2)(16.96,1.95e-2)(17.08,1.98e-2)(17.19,1.92e-2)(17.29,1.75e-2)(17.36,1.45e-2)(17.39,1.05e-2)(17.33,7.2e-3)(17.45,1.8e-2)(17.54,2.85e-2)(17.6,4.4e-2)(17.64,6.7e-2)(17.65,9.5e-2)(17.66,.125)(17.69,5e-2)(17.7,3.2e-2)(17.73,2.2e-2)(17.78,1.75e-2)(17.85,1.75e-2)(17.96,2.15e-2)(18.1,2.6e-2)(18.25,3e-2)(18.41,3.6e-2)(18.57,4.5e-2)(18.68,4.2e-2)(18.69,2.8e-2)(18.64,2e-2)(18.69,1.65e-2)(18.78,1.35e-2)(18.9,1.05e-2)(19.04,8.5e-3)(19.22,6.9e-3)(19.37,5.6e-3)(19.47,4.3e-3)(19.55,3.2e-3)(19.65,2.4e-3)(19.72,1.9e-3)(19.8,1.5e-3)(18.25,2.2e-2)(18.4,2.6e-2)(18.5,2.8e-2)(18.55,2.2e-2)(18.5,1.9e-2)
};
\end{axis}
\end{tikzpicture}
\end{document}
